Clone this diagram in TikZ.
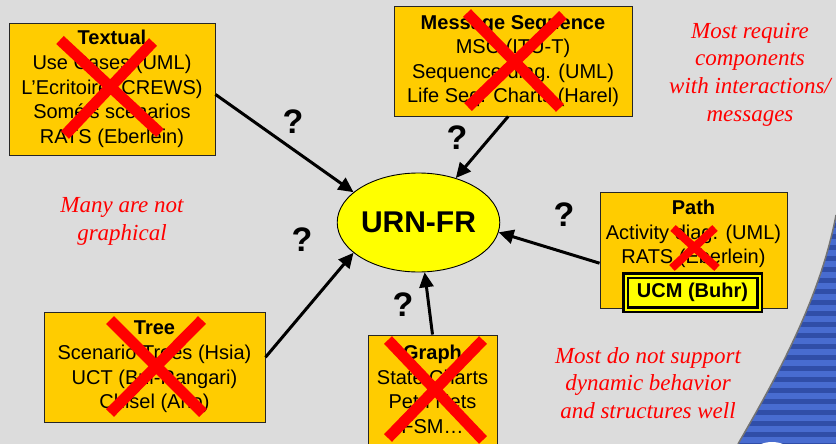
\documentclass[tikz,border=0pt]{standalone}
\usepackage{fontspec}
\setmainfont{Liberation Sans}
\newfontfamily\redserif{Liberation Serif}
\usetikzlibrary{arrows.meta,shapes.geometric}
\definecolor{bg}{HTML}{DCDCDC}
\definecolor{boxfill}{HTML}{FFCC00}
\definecolor{urnfill}{HTML}{FFFF00}
\definecolor{crossred}{HTML}{FF0000}
\definecolor{bluelight}{RGB}{72,108,208}
\definecolor{bluedark}{RGB}{48,78,168}
\begin{document}
\begin{tikzpicture}[x=1pt,y=-1pt,
  catbox/.style={draw=black!85, line width=0.9pt, fill=boxfill, rectangle, inner sep=0pt,
    align=center, font=\fontsize{20}{24.6}\selectfont},
  cattext/.style={align=center, inner sep=0pt, font=\fontsize{20}{24.6}\selectfont},
  xcross/.style={draw=crossred, line width=11pt},
  arr/.style={draw=black, line width=3pt, -{Triangle[length=15pt,width=14pt]}},
  qmark/.style={inner sep=0pt, font=\bfseries\fontsize{34}{40}\selectfont},
  redtext/.style={align=center, inner sep=0pt, text=crossred,
    font=\redserif\itshape\fontsize{23}{27.6}\selectfont},
  ucmbox/.style={draw=black, line width=2.5pt, double=urnfill, double distance=2pt,
    fill=urnfill, inner sep=0pt, font=\bfseries\fontsize{20}{24}\selectfont}
]
\useasboundingbox (0,0) rectangle (836,444);
\fill[bg] (0,0) rectangle (836,444);

% blue striped decoration
\begin{scope}
  \clip (836,215) .. controls (820,300) and (775,380) .. (738,444) -- (836,444) -- cycle;
  \fill[bluedark] (720,200) rectangle (836,444);
  \foreach \yy in {206,217,...,444} \fill[bluelight] (720,\yy) rectangle (836,\yy+6);
  \fill[white] (772,472) circle (30);
\end{scope}
\draw[black!55, line width=1.5pt] (836,215) .. controls (820,300) and (775,380) .. (738,444);

% category boxes
\node[catbox, minimum width=206pt, minimum height=132pt] (textual) at (112,89)
  {\textbf{Textual}\\Use Cases (UML)\\L’Ecritoire (CREWS)\\Somé’s scenarios\\RATS (Eberlein)};
\node[catbox, minimum width=238pt, minimum height=110pt] (msg) at (513,61)
  {\textbf{Message Sequence}\\MSC (ITU-T)\\Sequence diag. (UML)\\Life Seq. Charts (Harel)};
\node[catbox, minimum width=187pt, minimum height=116pt] (path) at (693.5,250) {};
\node[cattext] (pathtext) at (693.5,234) {\textbf{Path}\\Activity diag. (UML)\\RATS (Eberlein)};
\node[catbox, minimum width=221pt, minimum height=110pt] (tree) at (154.5,367)
  {\textbf{Tree}\\Scenario Trees (Hsia)\\UCT (Bui-Rangari)\\Chisel (Aho)};
\node[catbox, minimum width=129pt, minimum height=135pt] (graph) at (432.5,402.5) {};
\node[cattext] (graphtext) at (432.5,389.5) {\textbf{Graph}\\State Charts\\Petri Nets\\FSM…};

% crosses
\draw[xcross] (60,40) -- (160,133) (153,42) -- (65,135);
\draw[xcross] (467,13) -- (560,108) (563,15) -- (468,107);
\draw[xcross, line width=8pt] (673,228) -- (717,268) (715,228) -- (672,268);
\draw[xcross] (110,320) -- (203,413) (202,320) -- (110,413);
\draw[xcross] (388,340) -- (483,440) (483,340) -- (388,438);

\node[ucmbox, minimum width=134pt, minimum height=34pt] (ucm) at (692.5,292.5) {UCM (Buhr)};

% central ellipse
\node[ellipse, draw=black, line width=0.9pt, fill=urnfill, minimum width=157pt, minimum height=99pt,
  inner sep=0pt, font=\bfseries\fontsize{30}{36}\selectfont] (urn) at (418.5,222.5) {URN-FR};

% arrows
\draw[arr] (textual.-3) -- (urn.155);
\draw[arr] (msg.265) -- (urn.50);
\draw[arr] (path.188) -- (urn.-7);
\draw[arr] (tree.5) -- (urn.205);
\draw[arr] (graph.north) -- (urn.277);

% question marks
\node[qmark] (q1) at (293,122) {?};
\node[qmark] (q2) at (457,138) {?};
\node[qmark] (q3) at (564,215) {?};
\node[qmark] (q4) at (302,240) {?};
\node[qmark] (q5) at (403,305) {?};

% red remarks
\node[redtext] (r1) at (750,74.5) {Most require\\components\\with interactions/\\messages};
\node[redtext] (r2) at (122,221.5) {Many are not\\graphical};
\node[redtext] (r3) at (648,383) {Most do not support\\dynamic behavior\\and structures well};
\end{tikzpicture}
\end{document}
